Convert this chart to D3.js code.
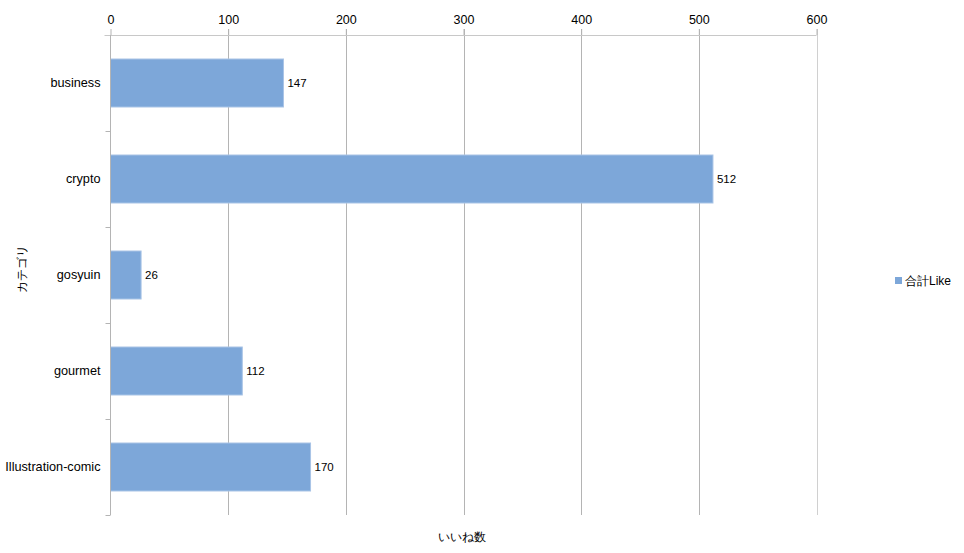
<!DOCTYPE html>
<html><head><meta charset="utf-8">
<script src="https://cdn.jsdelivr.net/npm/d3@7/dist/d3.min.js"></script>
<style>body{margin:0;background:#fff}svg{display:block}text{font-family:"Liberation Sans",Arial,sans-serif;font-size:12px;fill:#000}</style>
</head><body>
<svg id="c" width="964" height="553"></svg>
<script>
const categories = ["business","crypto","gosyuin","gourmet","Illustration-comic"];
const likes = [147,512,26,112,170];
const xTicks = [0,100,200,300,400,500,600];
const seriesName = "合計Like";
const xTitle = "いいね数";
const yTitle = "カテゴリ";

const svg = d3.select("#c");
const L = 110.5, R = 816.5, T = 35, B = 515;
const x = d3.scaleLinear().domain([0,600]).range([L,R]);
const y = d3.scaleBand().domain(categories).range([T,B]).paddingInner(0.5).paddingOuter(0.25);
const yb = d3.scaleBand().domain(categories).range([T,B]);

// gridlines
svg.append("g").selectAll("line").data(xTicks.slice(1)).join("line")
  .attr("x1",d=>Math.round(x(d))+0.5).attr("x2",d=>Math.round(x(d))+0.5)
  .attr("y1",T-6).attr("y2",B)
  .attr("stroke",d=>d===600?"#d0d0d0":"#b4b4b4").attr("stroke-width",1);

// top axis
const xa = svg.append("g").attr("transform",`translate(0,${T})`)
  .call(d3.axisTop(x).tickValues(xTicks).tickSize(6).tickPadding(5));
xa.select(".domain").attr("stroke","#c8c8c8").attr("d",`M${L-6},0.5H${R}`);
xa.selectAll(".tick line").attr("stroke","#b4b4b4");
xa.selectAll(".tick text").style("font-size","12.5px").attr("fill","#000");

// bars
svg.append("g").selectAll("rect").data(categories).join("rect")
  .attr("x",x(0)).attr("y",d=>y(d))
  .attr("width",(d,i)=>x(likes[i])-x(0)).attr("height",y.bandwidth())
  .attr("fill","#7da7d9").attr("stroke","#a9c4e6").attr("stroke-width",1);

// left axis
svg.append("line").attr("x1",L).attr("x2",L).attr("y1",T).attr("y2",B)
  .attr("stroke","#b4b4b4");
svg.append("g").selectAll("line").data(categories).join("line")
  .attr("x1",L-5).attr("x2",L).attr("y1",d=>Math.round(yb(d)+yb.bandwidth())+0.5).attr("y2",d=>Math.round(yb(d)+yb.bandwidth())+0.5)
  .attr("stroke","#b4b4b4");
svg.append("g").selectAll("text").data(categories).join("text")
  .attr("x",L-10).attr("y",d=>yb(d)+yb.bandwidth()/2).attr("dy","0.35em")
  .attr("text-anchor","end").style("font-size","12.7px").text(d=>d);

// data labels
svg.append("g").selectAll("text").data(categories).join("text")
  .attr("x",(d,i)=>x(likes[i])+4).attr("y",d=>yb(d)+yb.bandwidth()/2).attr("dy","0.35em")
  .style("font-size","11.5px").text((d,i)=>likes[i]);

// titles
svg.append("text").attr("x",462).attr("y",541).attr("text-anchor","middle").text(xTitle);
svg.append("text").attr("transform","translate(26,269) rotate(-90)").attr("text-anchor","middle").text(yTitle);

// legend
svg.append("rect").attr("x",895).attr("y",277).attr("width",7).attr("height",7).attr("fill","#7da7d9");
svg.append("text").attr("x",905).attr("y",281).attr("dy","0.35em").text(seriesName);
</script>
</body></html>
